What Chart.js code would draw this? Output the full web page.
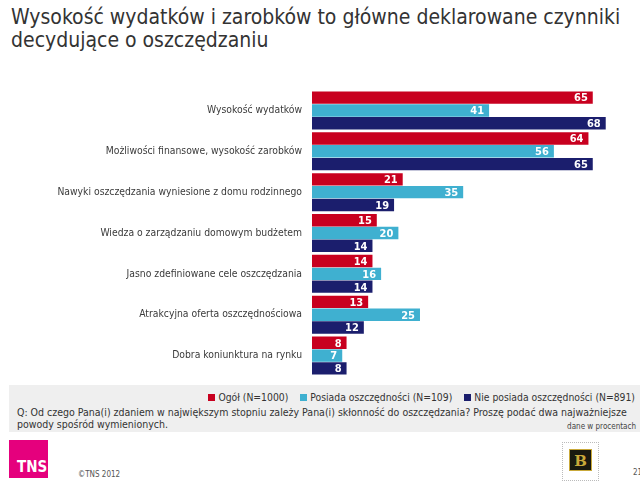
<!DOCTYPE html>
<html>
<head>
<meta charset="utf-8">
<script src="https://cdn.jsdelivr.net/npm/chart.js@4.4.0/dist/chart.umd.min.js"></script>
<style>
  body { margin: 0; width: 640px; height: 488px; background: #fff; position: relative; overflow: hidden;
         font-family: "DejaVu Sans Condensed", "DejaVu Sans", sans-serif; color: #333; }
  .abs { position: absolute; }
  #title { left: 11px; top: 6px; font-size: 21px; line-height: 23px; color: #333; }
  #chart { left: 0; top: 80px; }
  #note { left: 9px; top: 385px; width: 631px; height: 47px; background: #efefef; }
  #legend { right: 5px; top: 391px; font-size: 10.3px; white-space: nowrap; }
  #legend span.sq { display: inline-block; width: 7px; height: 7px; margin-right: 3px; }
  #legend span.item { margin-left: 12px; }
  #question { left: 17px; top: 406px; font-size: 10.5px; line-height: 12px; width: 622px; }
  #unit { right: 4px; top: 422px; font-size: 8px; color: #444; }
  #tns { left: 9px; top: 440px; width: 39px; height: 38px; background: #e5007d; }
  #tns b { position: absolute; left: 8px; bottom: 2px; color: #fff; font-size: 15px; font-family: "DejaVu Sans Condensed", sans-serif; }
  #copy { left: 78px; top: 470px; font-size: 8px; color: #555; }
  #logo { left: 562px; top: 442px; width: 35px; height: 37px; border: 1px dotted #bbb; }
  #logo div { position: absolute; left: 6px; top: 6px; width: 23px; height: 22px; background: #1a1a10; color: #c9a93a;
              font: bold 15px "DejaVu Serif", serif; text-align: center; line-height: 22px; border: 1px solid #c9a93a; box-sizing: border-box; }
  #page { left: 633px; top: 468px; font-size: 8px; color: #555; }
</style>
</head>
<body>
<div id="title" class="abs">Wysokość wydatków i zarobków to główne deklarowane czynniki<br>decydujące o oszczędzaniu</div>
<canvas id="chart" class="abs" width="640" height="305"></canvas>
<div id="note" class="abs"></div>
<div id="legend" class="abs"></div>
<div id="question" class="abs">Q: Od czego Pana(i) zdaniem w największym stopniu zależy Pana(i) skłonność do oszczędzania? Proszę podać dwa najważniejsze powody spośród wymienionych.</div>
<div id="unit" class="abs">dane w procentach</div>
<div id="tns" class="abs"><b>TNS</b></div>
<div id="copy" class="abs">©TNS 2012</div>
<div id="logo" class="abs"><div>B</div></div>
<div id="page" class="abs">21</div>
<script>
const categories = [
  "Wysokość wydatków",
  "Możliwości finansowe, wysokość zarobków",
  "Nawyki oszczędzania wyniesione z domu rodzinnego",
  "Wiedza o zarządzaniu domowym budżetem",
  "Jasno zdefiniowane cele oszczędzania",
  "Atrakcyjna oferta oszczędnościowa",
  "Dobra koniunktura na rynku"
];
const seriesNames = ["Ogół (N=1000)", "Posiada oszczędności (N=109)", "Nie posiada oszczędności (N=891)"];
const ogol = [65, 64, 21, 15, 14, 13, 8];
const posiada = [41, 56, 35, 20, 16, 25, 7];
const niePosiada = [68, 65, 19, 14, 14, 12, 8];
const colors = ["#c8001f", "#3fb0d0", "#1b1e6d"];

const seriesValues = [ogol, posiada, niePosiada];

// legend in the grey box
const legendEl = document.getElementById("legend");
seriesNames.forEach((name, i) => {
  const item = document.createElement("span");
  item.className = "item";
  item.innerHTML = '<span class="sq" style="background:' + colors[i] + '"></span>' + name;
  legendEl.appendChild(item);
});

const valueLabels = {
  id: "valueLabels",
  afterDatasetsDraw(chart) {
    const ctx = chart.ctx;
    ctx.save();
    ctx.fillStyle = "#fff";
    ctx.font = "bold 11px 'DejaVu Sans Condensed', 'DejaVu Sans', sans-serif";
    ctx.textAlign = "right";
    ctx.textBaseline = "middle";
    chart.data.datasets.forEach((ds, i) => {
      chart.getDatasetMeta(i).data.forEach((bar, j) => {
        ctx.fillText(ds.data[j], bar.x - 5, bar.y + 1);
      });
    });
    ctx.restore();
  }
};

new Chart(document.getElementById("chart"), {
  type: "bar",
  data: {
    labels: categories,
    datasets: seriesValues.map((vals, i) => ({
      label: seriesNames[i],
      data: vals,
      backgroundColor: colors[i],
      borderWidth: 0,
      barPercentage: 0.97,
      categoryPercentage: 0.94
    }))
  },
  options: {
    indexAxis: "y",
    responsive: false,
    animation: false,
    devicePixelRatio: 1,
    layout: { padding: { top: 10, right: 17, bottom: 9, left: 0 } },
    plugins: { legend: { display: false }, tooltip: { enabled: false } },
    scales: {
      x: { min: 0, max: 72, display: false },
      y: {
        grid: { display: false, drawTicks: false },
        border: { display: false },
        ticks: {
          color: "#3a3a3a",
          padding: 10,
          font: { family: "'DejaVu Sans Condensed', 'DejaVu Sans', sans-serif", size: 10.3 }
        },
        afterFit(scale) {
          scale.width = 312;
          scale.paddingTop = 0;
          scale.paddingBottom = 0;
        }
      }
    }
  },
  plugins: [valueLabels]
});
</script>
</body>
</html>
